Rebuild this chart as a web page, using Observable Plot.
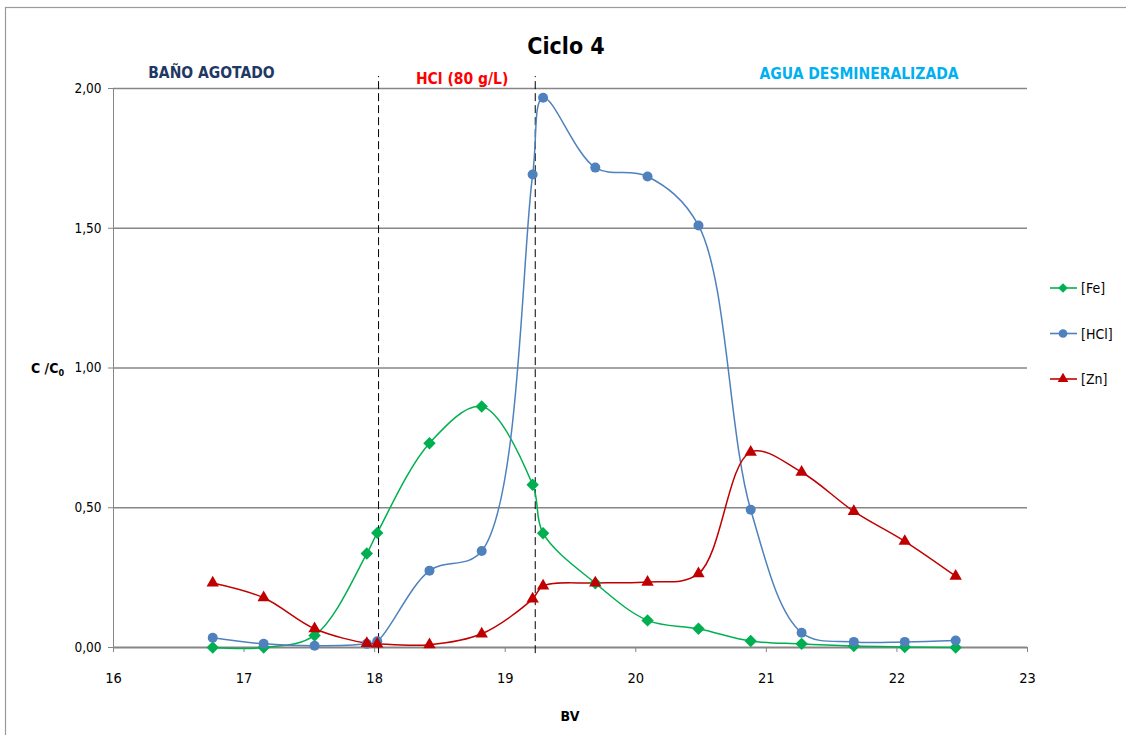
<!DOCTYPE html>
<html>
<head>
<meta charset="utf-8">
<script src="https://cdn.jsdelivr.net/npm/d3@7"></script>
<script src="https://cdn.jsdelivr.net/npm/@observablehq/plot@0.6"></script>
<style>
  html, body { margin: 0; padding: 0; background: #fff; }
  #chart { position: relative; width: 1126px; height: 735px; }
  svg { font-family: "Liberation Sans Narrow", "DejaVu Sans Condensed", "Liberation Sans", sans-serif; }
</style>
</head>
<body>
<div id="chart"></div>
<script>
// ---- data ----
const bv = [16.76, 17.15, 17.54, 17.94, 18.02, 18.42, 18.82, 19.21, 19.29, 19.69, 20.09, 20.48, 20.88, 21.27, 21.67, 22.06, 22.45];
const fe  = [0.000, 0.000, 0.043, 0.336, 0.410, 0.731, 0.862, 0.582, 0.409, 0.230, 0.097, 0.067, 0.023, 0.013, 0.005, 0.002, 0.000];
const hcl = [0.035, 0.013, 0.006, 0.013, 0.022, 0.275, 0.345, 1.692, 1.967, 1.717, 1.685, 1.510, 0.493, 0.053, 0.020, 0.020, 0.025];
const zn  = [0.231, 0.178, 0.067, 0.015, 0.013, 0.010, 0.049, 0.174, 0.220, 0.231, 0.234, 0.264, 0.699, 0.627, 0.487, 0.380, 0.255];
const seriesNames = ["[Fe]", "[HCl]", "[Zn]"];
const seriesColors = ["#00B050", "#4F81BD", "#C00000"];
const seriesSymbols = ["diamond2", "circle", "triangle"];
const xTicks = [16, 17, 18, 19, 20, 21, 22, 23];
const yTicks = [0, 0.5, 1, 1.5, 2];
const phaseBounds = [18.03, 19.23];
const phaseLabels = ["BAÑO AGOTADO", "HCl (80 g/L)", "AGUA DESMINERALIZADA"];
const phaseLabelX = [16.75, 18.67, 21.71];
const phaseLabelY = [2.055, 2.035, 2.05];
const phaseColors = ["#1F3864", "#FF0000", "#00B0F0"];
const title = "Ciclo 4";

// ---- build table ----
const allSeries = [fe, hcl, zn];
const rows = [];
allSeries.forEach((vals, s) => vals.forEach((v, i) => rows.push({bv: bv[i], c: v, s: seriesNames[s]})));

const fmt = v => d3.format(".2f")(v).replace(".", ",");
const font = `"Liberation Sans Narrow", "DejaVu Sans Condensed", "Liberation Sans", sans-serif`;

const marks = [
  Plot.ruleY([0.5, 1, 1.5, 2], {stroke: "#868686", strokeWidth: 1.3}),
  Plot.axisY({ticks: yTicks, tickFormat: () => "", tickSize: 5, stroke: "#868686", label: null}),
  Plot.text(yTicks, {x: () => 16, y: d => d, text: fmt, dx: -12, textAnchor: "end", fontSize: 13.5, fill: "#000"}),
  Plot.ruleX([16], {y1: 0, y2: 2, stroke: "#868686", strokeWidth: 1}),
  Plot.axisX({ticks: xTicks, tickFormat: () => "", tickSize: 5, stroke: "#868686", label: null}),
  Plot.text(xTicks, {x: d => d, y: () => 0, text: d => String(d), dy: 31, fontSize: 14.5, fill: "#000"}),
  Plot.ruleY([0], {stroke: "#868686", strokeWidth: 2.2}),
  Plot.ruleX(phaseBounds, {y1: -0.022, y2: 2.043, stroke: "#000", strokeWidth: 1, strokeDasharray: "8,4"})
];
seriesNames.forEach((name, s) => {
  const data = rows.filter(r => r.s === name);
  marks.push(Plot.line(data, {x: "bv", y: "c", stroke: seriesColors[s], strokeWidth: 1.5, curve: "catmull-rom"}));
});
seriesNames.forEach((name, s) => {
  const data = rows.filter(r => r.s === name);
  marks.push(Plot.dot(data, {x: "bv", y: "c", fill: seriesColors[s], stroke: "none", symbol: () => seriesSymbols[s], r: s === 1 ? 5 : (s === 0 ? 5.6 : 4.6)}));
});
phaseLabels.forEach((t, i) => {
  marks.push(Plot.text([t], {x: () => phaseLabelX[i], y: () => phaseLabelY[i], text: d => d, fill: phaseColors[i], fontWeight: "bold", fontSize: 15.5, textAnchor: "middle"}));
});

const svg = Plot.plot({
  width: 1126,
  height: 735,
  marginLeft: 113,
  marginRight: 99,
  marginTop: 88,
  marginBottom: 88,
  style: {fontFamily: font, background: "#fff", overflow: "visible"},
  x: {domain: [16, 23]},
  y: {domain: [0, 2]},
  symbol: {type: "identity"},
  marks
});

const root = d3.select(svg);

// outer chart frame (left/top edges visible)
root.insert("rect", ":first-child")
  .attr("x", 5.5).attr("y", 7.5).attr("width", 1140).attr("height", 760)
  .attr("fill", "none").attr("stroke", "#9a9a9a").attr("stroke-width", 1.2);

// title
root.append("text").attr("x", 566).attr("y", 54).attr("text-anchor", "middle")
  .style("font-size", "23px").attr("font-weight", "bold").attr("fill", "#000").text(title);

// axis titles
const yl = root.append("text").attr("x", 31).attr("y", 373).attr("text-anchor", "start").style("font-size", "14px").attr("font-weight", "bold").attr("fill", "#000");
yl.append("tspan").text("C /C");
yl.append("tspan").style("font-size", "9px").attr("dy", 3).text("0");
root.append("text").attr("x", 570).attr("y", 721).attr("text-anchor", "middle")
  .style("font-size", "14px").attr("font-weight", "bold").attr("fill", "#000").text("BV");

// legend
const lg = root.append("g");
seriesNames.forEach((name, s) => {
  const yy = 288 + s * 45.5;
  lg.append("line").attr("x1", 1050).attr("x2", 1077).attr("y1", yy).attr("y2", yy)
    .attr("stroke", seriesColors[s]).attr("stroke-width", 1.6);
  const sym = s === 0 ? d3.symbolSquare : s === 1 ? d3.symbolCircle : d3.symbolTriangle;
  lg.append("path").attr("transform", `translate(1063,${yy})` + (s === 0 ? " rotate(45)" : ""))
    .attr("d", d3.symbol(sym, s === 1 ? 60 : (s === 0 ? 45 : 50))())
    .attr("fill", seriesColors[s]);
  lg.append("text").attr("x", 1081).attr("y", yy + 5).attr("text-anchor", "start").style("font-size", "14px").attr("fill", "#000").text(name);
});

document.getElementById("chart").appendChild(svg);
</script>
</body>
</html>
